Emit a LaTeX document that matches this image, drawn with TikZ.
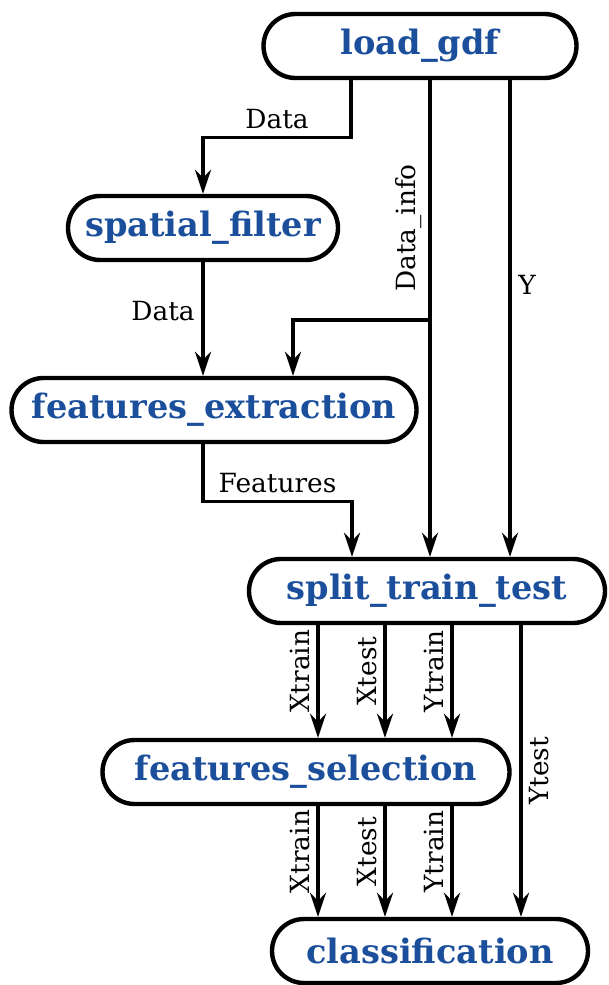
\documentclass[tikz,border=0pt]{standalone}
\usepackage{fontspec}
\setmainfont{DejaVu Serif}
\usetikzlibrary{arrows.meta}
\definecolor{stageblue}{HTML}{1B4F9B}

\begin{document}
\begin{tikzpicture}[x=0.5pt, y=-0.5pt, every node/.style={font=\fontsize{13.2}{15}\selectfont}, stage/.style={draw, line width=2.2pt, rounded corners=16pt, minimum height=32pt, inner sep=0pt, font=\fontsize{16.8}{19}\selectfont\bfseries, text=stageblue}, flow/.style={-{Stealth[length=12pt, width=8pt, inset=4pt]}, line width=1.7pt}]
\useasboundingbox (0,0) rectangle (609,985);
\node[stage, minimum width=156.5pt] (load) at (420,46) {load\_gdf};
\node[stage, minimum width=135pt] (spatial) at (203,228) {spatial\_filter};
\node[stage, minimum width=202.5pt] (extract) at (214,410) {features\_extraction};
\node[stage, minimum width=178pt] (split) at (427,591) {split\_train\_test};
\node[stage, minimum width=203.5pt] (select) at (306,772) {features\_selection};
\node[stage, minimum width=158pt] (classify) at (430,951) {classification};
% lanes
\coordinate (laneData) at (351,0);
\coordinate (laneInfo) at (430,0);
\coordinate (laneY) at (510,0);
\coordinate (laneInfoE) at (293,0);
\coordinate (laneFeat) at (352,0);
\coordinate (laneYtest) at (521,0);
\coordinate (infoFork) at (430,320);
\draw[flow] (load.south -| laneData) -- ++(0,57) -| (spatial.north) node[pos=0.25, above] {Data};
\draw[flow] (load.south -| laneInfo) -- (split.north -| laneInfo) node[pos=0.31, rotate=90, above] {Data\_info};
\draw[flow] (infoFork) -| (extract.north -| laneInfoE);
\draw[flow] (load.south -| laneY) -- (split.north -| laneY) node[pos=0.43, right] {Y};
\draw[flow] (spatial.south) -- (spatial.south |- extract.north) node[pos=0.43, left] {Data};
\draw[flow] (extract.south -| spatial) -- ++(0,57) -| (split.north -| laneFeat) node[pos=0.25, above] {Features};
\foreach \lx/\lbl in {318/Xtrain, 385/Xtest, 452/Ytrain} {
  \coordinate (lane) at (\lx,0);
  \draw[flow] (split.south -| lane) -- (select.north -| lane) node[pos=0.41, rotate=90, above] {\lbl};
  \draw[flow] (select.south -| lane) -- (classify.north -| lane) node[pos=0.41, rotate=90, above] {\lbl};
}
\draw[flow] (split.south -| laneYtest) -- (classify.north -| laneYtest) node[pos=0.5, rotate=90, below] {Ytest};
\end{tikzpicture}
\end{document}
